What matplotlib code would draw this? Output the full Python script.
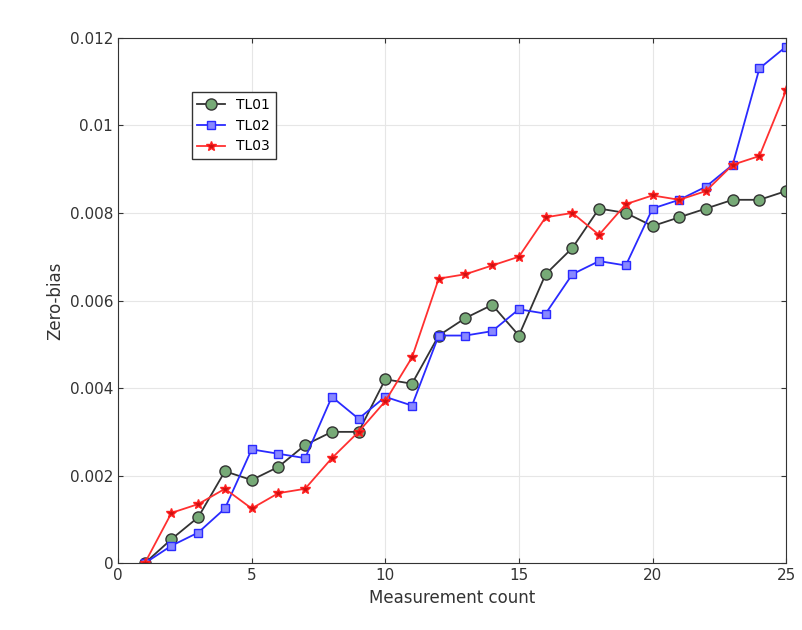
import matplotlib
matplotlib.use("Agg")
import matplotlib.pyplot as plt

x = list(range(1, 26))
tl01 = [0, 0.00055, 0.00105, 0.0021, 0.0019, 0.0022, 0.0027, 0.0030, 0.0030, 0.0042, 0.0041, 0.0052, 0.0056, 0.0059, 0.0052, 0.0066, 0.0072, 0.0081, 0.0080, 0.0077, 0.0079, 0.0081, 0.0083, 0.0083, 0.0085]
tl02 = [0, 0.0004, 0.0007, 0.00125, 0.0026, 0.0025, 0.0024, 0.0038, 0.0033, 0.0038, 0.0036, 0.0052, 0.0052, 0.0053, 0.0058, 0.0057, 0.0066, 0.0069, 0.0068, 0.0081, 0.0083, 0.0086, 0.0091, 0.0113, 0.0118]
tl03 = [0, 0.00115, 0.00135, 0.0017, 0.00125, 0.0016, 0.0017, 0.0024, 0.0030, 0.0037, 0.0047, 0.0065, 0.0066, 0.0068, 0.0070, 0.0079, 0.0080, 0.0075, 0.0082, 0.0084, 0.0083, 0.0085, 0.0091, 0.0093, 0.0108]
xticks = [0, 5, 10, 15, 20, 25]
yticks = [0, 0.002, 0.004, 0.006, 0.008, 0.01, 0.012]
ylabels = ["0", "0.002", "0.004", "0.006", "0.008", "0.01", "0.012"]

fig = plt.figure(figsize=(8.03, 6.30), dpi=100)
ax = fig.add_axes([0.147, 0.106, 0.832, 0.834])
ax.plot(x, tl01, color="#333333", marker="o", mfc="#77aa77", mec="#333333", ms=8, lw=1.3, label="TL01")
ax.plot(x, tl02, color="#2a2aff", marker="s", mfc="#8888ff", mec="#2a2aff", ms=6, lw=1.3, label="TL02")
ax.plot(x, tl03, color="#ff3030", marker="*", mfc="#cc1111", mec="#ff2020", ms=7, lw=1.3, label="TL03")
ax.set_xlim(0, 25)
ax.set_ylim(0, 0.012)
ax.set_xticks(xticks)
ax.set_yticks(yticks)
ax.set_yticklabels(ylabels)
ax.grid(True, color="#e6e6e6", lw=0.8)
ax.set_axisbelow(True)
ax.tick_params(direction="in", labelsize=11, colors="#333333", top=True, right=True)
for s in ax.spines.values():
    s.set_color("#333333")
ax.set_xlabel("Measurement count", fontsize=12, color="#333333")
ax.set_ylabel("Zero-bias", fontsize=12, color="#333333")
ax.legend(loc="upper left", bbox_to_anchor=(0.1, 0.91), fontsize=10, fancybox=False, edgecolor="#333333", framealpha=1)
fig.savefig("out.png", dpi=100)
